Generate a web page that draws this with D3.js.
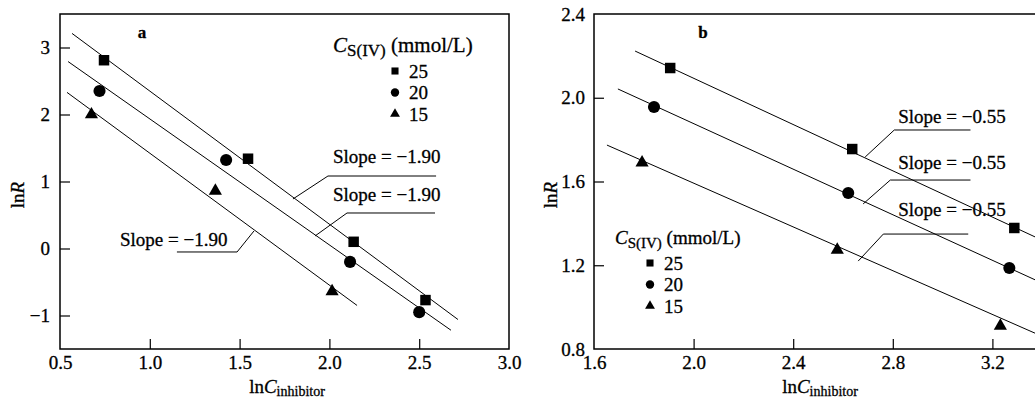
<!DOCTYPE html>
<html>
<head>
<meta charset="utf-8">
<script src="https://cdn.jsdelivr.net/npm/d3@7"></script>
<style>
  body { margin: 0; background: #fff; }
  svg { display: block; font-family: "Liberation Serif", "Times New Roman", serif; }
  svg text { fill: #000; stroke: #000; stroke-width: 0.3px; }
  .tick text { font-size: 19px; }
  .tick line { stroke: #000; stroke-width: 1.2; }
</style>
</head>
<body>
<div id="chart"></div>
<script>
let W = 1035, H = 399;

// concentrations of S(IV), mmol/L
let concs = ["25", "20", "15"];
let symbols = [d3.symbolSquare, d3.symbolCircle, d3.symbolTriangle];

// panel a
let aXDomain = [0.5, 3.0], aYDomain = [-1.5, 3.5];
let aXTicks = [0.5, 1.0, 1.5, 2.0, 2.5, 3.0];
let aYTicks = [-1, 0, 1, 2, 3];
let aLnC = [[0.745, 1.547, 2.135, 2.535], [0.72, 1.425, 2.115, 2.5], [0.675, 1.365, 2.015]];
let aLnR = [[2.81, 1.34, 0.1, -0.77], [2.35, 1.32, -0.2, -0.95], [2.0, 0.86, -0.64]];
let aFitX = [[0.567, 2.716], [0.545, 2.677], [0.539, 2.154]];
let aFitY = [[3.21, -1.06], [2.79, -1.22], [2.33, -0.85]];
let aSlopes = ["−1.90", "−1.90", "−1.90"];
// leader lines: touch point, elbow, end (data coords) and label anchor
let aLeadX = [[1.797, 1.992, 2.594], [1.92, 2.098, 2.588], [1.58, 1.486, 1.151]];
let aLeadY = [[0.739, 1.082, 1.082], [0.187, 0.53, 0.53], [0.261, -0.052, -0.052]];
let aLabelX = [2.02, 2.02, 0.834];
let aLabelY = [1.276, 0.709, 0.037];

// panel b
let bXDomain = [1.6, 3.6], bYDomain = [0.8, 2.4];
let bXTicks = [1.6, 2.0, 2.4, 2.8, 3.2];
let bYTicks = [0.8, 1.2, 1.6, 2.0, 2.4];
let bLnC = [[1.906, 2.637, 3.288], [1.841, 2.621, 3.268], [1.793, 2.577, 3.232]];
let bLnR = [[2.142, 1.755, 1.378], [1.956, 1.545, 1.187], [1.69, 1.273, 0.91]];
let bFitX = [[1.765, 3.6], [1.696, 3.6], [1.652, 3.6]];
let bFitY = [[2.223, 1.209], [2.042, 1.006], [1.774, 0.756]];
let bSlopes = ["−0.55", "−0.55", "−0.55"];
let bLeadX = [[2.689, 2.806, 3.112], [2.681, 2.79, 3.112], [2.661, 2.762, 3.103]];
let bLeadY = [[1.717, 1.846, 1.846], [1.493, 1.607, 1.607], [1.22, 1.349, 1.349]];
let bLabelX = [2.822, 2.822, 2.822];
let bLabelY = [1.879, 1.66, 1.435];

let svg = d3.select('#chart')
            .append('svg')
            .attr('width', W)
            .attr('height', H)

function drawPanel(p){
    let x = d3.scaleLinear().domain(p.xDomain).range([p.left, p.right])
    let y = d3.scaleLinear().domain(p.yDomain).range([p.bottom, p.top])

    let g = svg.append('g')

    // inward ticks
    let xAxis = d3.axisBottom(x)
                  .tickValues(p.xTicks)
                  .tickFormat(d3.format(".1f"))
                  .tickSizeInner(-10)
                  .tickSizeOuter(0)
                  .tickPadding(7)
    let gx = g.append('g')
              .attr('transform', 'translate(0,' + p.bottom + ')')
              .call(xAxis)
              .attr('font-family', null).attr('font-size', null)
    gx.select('.domain').remove()

    let yAxis = d3.axisLeft(y)
                  .tickValues(p.yTicks)
                  .tickFormat(p.yFormat)
                  .tickSizeInner(-10)
                  .tickSizeOuter(0)
                  .tickPadding(p.yPad)
    let gy = g.append('g')
              .attr('transform', 'translate(' + p.left + ',0)')
              .call(yAxis)
              .attr('font-family', null).attr('font-size', null)
    gy.select('.domain').remove()

    // no tick marks on the frame corners
    gx.selectAll('.tick').filter(d => d == p.xDomain[0] || d == p.xDomain[1]).select('line').remove()
    gy.selectAll('.tick').filter(d => d == p.yDomain[0] || d == p.yDomain[1]).select('line').remove()

    // frame
    g.append('rect')
     .attr('x', p.left).attr('y', p.top)
     .attr('width', p.right - p.left).attr('height', p.bottom - p.top)
     .attr('fill', 'none').attr('stroke', '#000').attr('stroke-width', 1.5)

    // fitted lines
    g.selectAll('.fit')
     .data(concs)
     .enter()
     .append('line')
       .attr('x1', (d, i) => x(p.fitX[i][0]))
       .attr('x2', (d, i) => x(p.fitX[i][1]))
       .attr('y1', (d, i) => y(p.fitY[i][0]))
       .attr('y2', (d, i) => y(p.fitY[i][1]))
       .attr('stroke', '#000').attr('stroke-width', 1)

    // points
    concs.forEach((c, i) => {
        g.selectAll('.pt' + i)
         .data(p.lnC[i].map((v, j) => [v, p.lnR[i][j]]))
         .enter()
         .append('path')
           .attr('d', d3.symbol().type(symbols[i]).size([110, 115, 75][i]))
           .attr('transform', d => 'translate(' + x(d[0]) + ',' + y(d[1]) + ')')
           .attr('fill', '#000')
    })

    // slope leaders and labels
    concs.forEach((c, i) => {
        g.append('polyline')
         .attr('points', p.leadX[i].map((v, j) => x(v) + ',' + y(p.leadY[i][j])).join(' '))
         .attr('fill', 'none').attr('stroke', '#000').attr('stroke-width', 1)
        g.append('text')
         .attr('x', x(p.labelX[i])).attr('y', y(p.labelY[i]))
         .style('font-size', '19px')
         .text('Slope = ' + p.slopes[i])
    })

    // legend
    let lg = g.append('g').attr('transform', 'translate(' + p.legend[0] + ',' + p.legend[1] + ')')
    let title = lg.append('text').attr('x', 0).attr('y', 0).style('font-size', p.legendFont + 'px')
    title.append('tspan').style('font-style', 'italic').text('C')
    title.append('tspan').attr('dy', 4).style('font-size', (p.legendFont - 4) + 'px').text('S(IV)')
    title.append('tspan').attr('dy', -4).text(' (mmol/L)')
    concs.forEach((c, i) => {
        lg.append('path')
          .attr('d', d3.symbol().type(symbols[i]).size([50, 55, 42][i]))
          .attr('transform', 'translate(' + p.legendSym + ',' + (19 + i * 21.5) + ')')
        lg.append('text')
          .attr('x', p.legendSym + 14).attr('y', 19 + i * 21.5 + 6.5)
          .style('font-size', '19px')
          .text(c)
    })

    // panel letter
    g.append('text')
     .attr('x', p.letter[0]).attr('y', p.letter[1])
     .attr('text-anchor', 'middle')
     .style('font-size', '17px').style('font-weight', 'bold')
     .text(p.name)

    // axis titles
    let yt = g.append('text')
              .attr('transform', 'translate(' + p.yTitle[0] + ',' + p.yTitle[1] + ') rotate(-90)')
              .attr('text-anchor', 'middle')
              .style('font-size', '19px')
    yt.append('tspan').text('ln')
    yt.append('tspan').style('font-style', 'italic').text('R')

    let xt = g.append('text')
              .attr('x', p.xTitle[0]).attr('y', p.xTitle[1])
              .attr('text-anchor', 'middle')
              .style('font-size', '19px')
    xt.append('tspan').text('ln')
    xt.append('tspan').style('font-style', 'italic').text('C')
    xt.append('tspan').attr('dy', 3).style('font-size', '14px').text('inhibitor')
}

drawPanel({
    name: 'a', left: 60, right: 509, top: 14, bottom: 349,
    xDomain: aXDomain, yDomain: aYDomain,
    xTicks: aXTicks, yTicks: aYTicks, yFormat: d3.format("d"), yPad: 10,
    lnC: aLnC, lnR: aLnR, fitX: aFitX, fitY: aFitY, slopes: aSlopes,
    leadX: aLeadX, leadY: aLeadY, labelX: aLabelX, labelY: aLabelY,
    legend: [333, 52], legendSym: 62, legendFont: 21, letter: [142, 38],
    yTitle: [24, 195], xTitle: [287, 393]
})

drawPanel({
    name: 'b', left: 594, right: 1092, top: 14, bottom: 349,
    xDomain: bXDomain, yDomain: bYDomain,
    xTicks: bXTicks, yTicks: bYTicks, yFormat: d3.format(".1f"), yPad: 9,
    lnC: bLnC, lnR: bLnR, fitX: bFitX, fitY: bFitY, slopes: bSlopes,
    leadX: bLeadX, leadY: bLeadY, labelX: bLabelX, labelY: bLabelY,
    legend: [615, 244], legendSym: 35, legendFont: 19, letter: [703, 38],
    yTitle: [557, 195], xTitle: [820, 393]
})
</script>
</body>
</html>
